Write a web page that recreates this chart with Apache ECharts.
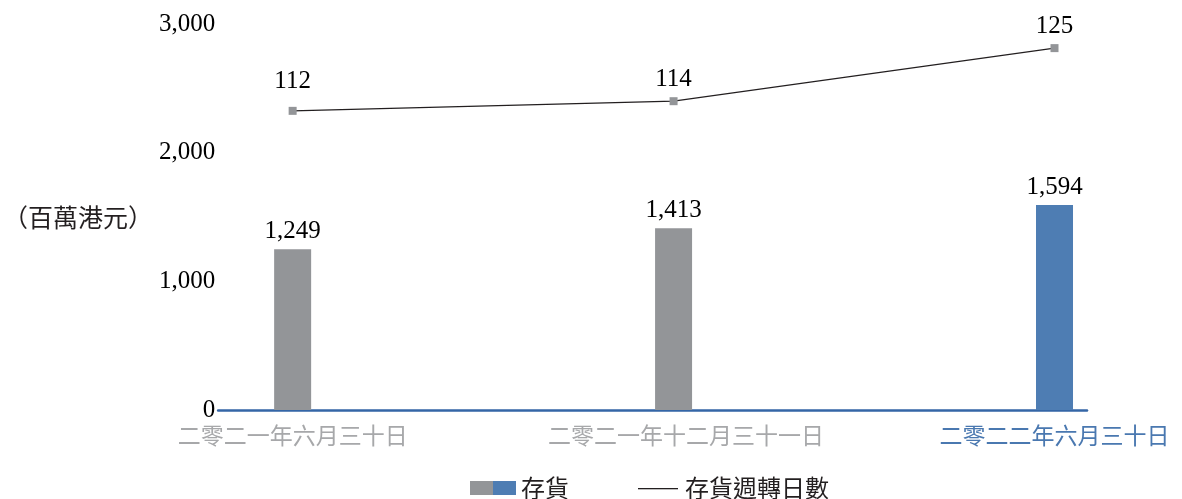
<!DOCTYPE html>
<html lang="zh-Hant">
<head>
	<title>存貨及存貨週轉日數</title>
	<meta charset='utf-8'>
	<style>
		html, body { margin: 0; padding: 0; background: #fff; }
		#container { width: 1182px; height: 499px; }
	</style>
</head>
<body>
	<div id="container"></div>
	<script src="https://cdn.jsdelivr.net/npm/echarts@6/dist/echarts.min.js"></script>
	<script type="text/javascript">
		// data
		let categories = ['二零二一年六月三十日', '二零二一年十二月三十一日', '二零二二年六月三十日'];
		let inventory = [1249, 1413, 1594];
		let turnoverDays = [112, 114, 125];
		let yTicks = [0, 1000, 2000, 3000];

		let numFont = "'Liberation Serif', 'Times New Roman', serif";
		let cjkFont = "'Noto Sans CJK TC', 'Noto Sans CJK SC', sans-serif";
		let grey = '#939598';
		let blue = '#4e7db3';

		let dom = document.getElementById('container');
		let myChart = echarts.init(dom, null, { renderer: 'canvas' });

		// legend icons as small svg images (two-colour block, thin line)
		let barIcon = 'image://data:image/svg+xml;charset=utf-8,' + encodeURIComponent(
			"<svg xmlns='http://www.w3.org/2000/svg' width='46' height='14'>" +
			"<rect x='0' y='0' width='23' height='14' fill='" + grey + "'/>" +
			"<rect x='23' y='0' width='23' height='14' fill='" + blue + "'/></svg>");
		let lineIcon = 'image://data:image/svg+xml;charset=utf-8,' + encodeURIComponent(
			"<svg xmlns='http://www.w3.org/2000/svg' width='46' height='14'>" +
			"<rect x='4' y='7' width='40' height='1.3' fill='#231f20'/></svg>");

		let barData = inventory.map(function (v, i) {
			return {
				value: [i, v],
				itemStyle: { color: i === categories.length - 1 ? blue : grey }
			};
		});
		// first label sits a bit higher above its marker in the original
		let lineData = turnoverDays.map(function (v, i) {
			let item = { value: [i, v] };
			if (i === 0) item.label = { distance: 13 };
			return item;
		});

		// px per category = 381, axis runs 218 -> 1087
		let xMin = -74.5 / 381;
		let xMax = (categories.length - 1) + 32.5 / 381;

		let option = {
			animation: false,
			grid: { left: 218, right: 95, top: 24, bottom: 89, containLabel: false },
			legend: {
				left: 465,
				top: 471,
				itemWidth: 46,
				itemHeight: 14,
				itemGap: 65,
				selectedMode: false,
				textStyle: { fontFamily: cjkFont, fontSize: 24, color: '#231f20' },
				data: [
					{ name: '存貨', icon: barIcon },
					{ name: '存貨週轉日數', icon: lineIcon }
				]
			},
			xAxis: {
				type: 'value',
				min: xMin,
				max: xMax,
				splitLine: { show: false },
				axisTick: { show: false },
				axisLine: { show: true, lineStyle: { color: '#3566a6', width: 2.5 } },
				axisLabel: {
					customValues: [0, 1, 2],
					margin: 14,
					formatter: function (v) {
						let i = Math.round(v);
						if (i === 2) return '{b|' + categories[i] + '}';
						if (i === 1) return '{m|' + categories[i] + '}';
						return '{g|' + categories[i] + '}';
					},
					rich: {
						g: { fontFamily: cjkFont, fontSize: 23, color: '#a7a8aa' },
						m: { fontFamily: cjkFont, fontSize: 23, color: '#a7a8aa', padding: [0, 0, 0, 25] },
						b: { fontFamily: cjkFont, fontSize: 23, color: '#4a78b0' }
					}
				}
			},
			yAxis: [{
				type: 'value',
				min: yTicks[0],
				max: yTicks[yTicks.length - 1],
				interval: 1000,
				name: '（百萬港元）',
				nameLocation: 'middle',
				nameRotate: 0,
				nameGap: 64,
				nameTextStyle: { fontFamily: cjkFont, fontSize: 25, color: '#231f20' },
				splitLine: { show: false },
				axisLine: { show: false },
				axisTick: { show: false },
				axisLabel: {
					margin: 3,
					fontFamily: numFont,
					fontSize: 25,
					color: '#000',
					formatter: function (v) { return v.toLocaleString('en-US'); }
				}
			}, {
				type: 'value',
				min: 50,
				max: 130,
				show: false,
				splitLine: { show: false }
			}],
			series: [{
				name: '存貨',
				type: 'bar',
				barWidth: 37,
				data: barData,
				label: {
					show: true,
					position: 'top',
					distance: 5,
					fontFamily: numFont,
					fontSize: 25,
					color: '#000',
					formatter: function (p) { return p.value[1].toLocaleString('en-US'); }
				}
			}, {
				name: '存貨週轉日數',
				type: 'line',
				yAxisIndex: 1,
				data: lineData,
				symbol: 'rect',
				symbolSize: 8,
				itemStyle: { color: grey },
				lineStyle: { color: '#231f20', width: 1.2 },
				label: {
					show: true,
					position: 'top',
					distance: 5,
					fontFamily: numFont,
					fontSize: 25,
					color: '#000',
					formatter: function (p) { return String(p.value[1]); }
				}
			}]
		};

		myChart.setOption(option);
		window.addEventListener('resize', myChart.resize);
	</script>
</body>
</html>
